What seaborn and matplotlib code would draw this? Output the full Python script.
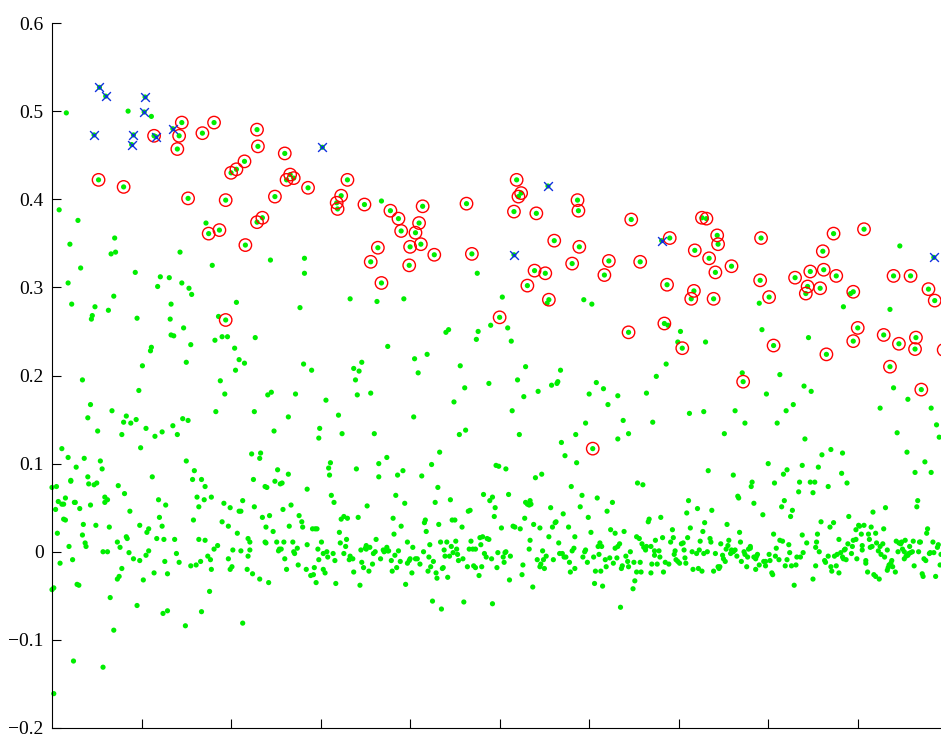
import pandas as pd
import matplotlib
matplotlib.use("Agg")
import matplotlib.pyplot as plt
import seaborn as sns

# plain green samples (x = sample index, y = value)
green_x = [
    0, 5, 7, 4, 6, 9, 2, 0, 2, 11, 13, 15, 13, 15, 19, 21, 23, 24, 25, 26,
    31, 28, 30, 34, 35, 37, 38, 41, 43, 47, 50, 49, 57, 57, 59, 59, 62, 62, 64, 65,
    69, 73, 73, 75, 74, 76, 78, 81, 83, 84, 86, 87, 91, 95, 98, 98, 102, 105, 106, 108,
    108, 114, 117, 119, 120, 123, 124, 125, 126, 127, 129, 129, 137, 139, 142, 149, 155, 158, 161, 162,
    164, 164, 166, 167, 170, 171, 171, 174, 176, 177, 178, 178, 181, 185, 190, 192, 197, 197, 199, 199,
    201, 202, 207, 209, 211, 211, 213, 213, 218, 219, 219, 221, 221, 224, 226, 232, 235, 238, 238, 239,
    239, 240, 242, 243, 247, 249, 251, 253, 254, 256, 257, 258, 259, 260, 262, 265, 267, 269, 270, 271,
    274, 275, 276, 279, 280, 284, 285, 285, 289, 291, 292, 294, 295, 296, 297, 298,
    # middle left
    20, 18, 22, 32, 34, 43, 40, 44, 45, 48, 51, 63, 66, 71, 69, 93, 95, 101, 97, 105,
    99, 115, 118, 121, 131, 133, 132, 133, 136, 143, 145, 147, 153, 156, 155, 150, 146, 152, 135, 140,
    123, 110, 111, 179, 186, 190, 196, 182, 204, 209, 215, 205, 206, 227, 188, 193, 183, 226, 244, 282,
    282, 277, 281, 290, 272, 264, 245, 241, 248, 223, 233, 232, 252, 264, 18, 11, 27, 36, 54, 56,
    21, 40, 67, 78, 80, 83, 88, 94, 112, 150, 159, 157, 167, 225, 255, 299, 298,
    16, 85, 111, 8, 29, 70, 172, 333,
    # middle centre
    368, 475, 363, 393, 503, 553, 594, 603, 375, 405, 419, 440, 443, 476, 474, 490, 509, 513,
    337, 343, 346, 339, 341, 356, 409, 456, 461, 449, 488, 520, 529, 543, 527, 514, 558, 564, 565, 568,
    608, 616, 600, 632, 621, 306, 320, 324, 360, 404, 455, 462, 433, 424, 374, 365, 340, 311, 309, 310,
    365, 386, 392, 413, 431, 496, 499, 507, 522, 569, 585, 596, 638, 632, 644, 573, 586, 540, 547,
    # bottom centre
    293, 301, 303, 307, 308, 303, 305, 312, 315, 314, 316, 317, 321, 322, 323, 326, 330, 326, 328, 329,
    332, 333, 336, 337, 342, 344, 345, 346, 348, 350, 351, 351, 352, 354, 355, 358, 359, 361, 362, 367,
    370, 371, 373, 374, 375, 376, 379, 380, 381, 382, 383, 384, 385, 387, 389, 390, 394, 395, 397, 397,
    399, 400, 402, 403, 406, 408, 411, 415, 416, 417, 418, 420, 421, 422, 423, 425, 426, 428, 429, 430,
    432, 434, 435, 436, 437, 438, 439, 441, 442, 444, 445, 446, 447, 448, 450, 451, 452, 453, 454,
    458, 459, 460, 464, 465, 467, 466, 468, 470, 471, 473, 473, 477, 479, 478, 480, 481, 482, 483, 485,
    486, 488, 489, 491, 492, 492, 494, 495, 497, 498, 502, 504, 505, 506, 507, 510, 511, 512, 515, 517,
    523, 525, 526, 528, 529, 531, 533, 534, 535, 534, 533, 537, 538, 542, 545, 545, 546, 548, 549, 550,
    552, 555, 557, 559, 560, 562, 563, 566, 567, 570, 571, 572, 574, 577, 578, 579, 580, 581, 583, 584, 584,
    590, 592, 593, 595, 596, 598, 599, 602, 605, 606, 607, 609, 610, 611, 612, 613, 614, 615, 618, 619,
    620, 623, 624, 626, 627, 629, 629, 631, 632, 634, 635, 636, 637, 639, 641, 643, 646,
    # bottom right
    644, 649, 650, 651, 653, 654, 660, 653, 656, 657, 658, 659, 661, 663, 664, 666, 667, 669, 669, 670,
    673, 673, 674, 676, 678, 679, 680, 682, 683, 685, 689, 691, 693, 694, 695, 696, 697, 699, 701, 703,
    705, 706, 707, 708, 709, 710, 711, 713, 715, 716, 720, 721, 722, 723, 724, 726, 727, 728, 729, 732,
    735, 736, 737, 739, 741, 744, 745, 746, 747, 749, 750, 752, 753, 754, 755, 756, 758, 759, 761, 763,
    765, 766, 767, 768, 769, 770, 773, 774, 776, 777, 778, 780, 780, 781, 782, 784, 784, 786, 786, 787,
    788, 790, 794, 795, 797, 797, 801, 802, 804, 805, 806, 807, 808, 809, 812, 813, 815, 816, 818, 819,
    821, 823, 824, 825, 826, 827, 829, 831, 832, 834, 835, 836, 838, 839, 843, 847, 850, 852, 850, 853,
    853, 854, 855, 857, 859, 863, 864, 867, 867, 869, 870, 871, 873, 874, 876, 877, 879, 879, 881, 883,
    884, 885, 886, 887, 888, 889, 890, 893, 894, 895, 898, 898, 899, 901, 902, 904, 905, 905, 907, 909,
    909, 911, 912, 913, 914, 915, 916, 917, 918, 920, 920, 921, 923, 924, 925, 926, 928, 929, 930, 931,
    933, 933, 934, 935, 937, 938, 939, 942, 943, 945, 946, 948, 949, 950, 952, 952, 953, 954, 956, 957,
    958, 959, 961, 962, 963, 966, 967, 968, 969, 970, 972, 973, 974, 976, 977, 978, 980, 981, 984, 985,
    987, 989, 990, 992, 993,
    # middle right
    947, 936, 884, 892, 790, 793, 845, 730, 702, 699, 688, 686, 675, 664, 671, 712, 728, 763, 774, 751,
    771, 798, 813, 840, 848, 828, 820, 810, 841, 870, 860, 883, 940, 956, 925, 982, 988, 991, 944, 955,
    975, 982, 964, 800, 838, 856, 821, 817, 882, 733, 761,
]
green_y = [
    0.073, 0.074, 0.057, 0.048, 0.021, -0.013, -0.041, -0.043, -0.161, 0.054, 0.054, 0.061, 0.037, 0.036, 0.006, 0.080, -0.009, -0.124, 0.056, 0.056,
    0.049, -0.037, -0.038, 0.019, 0.031, 0.010, 0.006, 0.077, 0.053, 0.076, 0.078, 0.030, 0.000, -0.131, 0.062, 0.056, 0.059, 0.000, 0.028, -0.052,
    -0.089, -0.031, 0.011, -0.028, 0.075, 0.005, -0.019, 0.066, 0.017, 0.015, -0.001, 0.046, -0.008, -0.061, -0.010, 0.030, -0.032, -0.004, 0.022, 0.001,
    0.026, -0.024, 0.015, 0.059, 0.039, 0.029, -0.070, 0.014, -0.011, 0.053, -0.025, -0.067, 0.014, -0.002, -0.012, -0.084, -0.016, 0.036, -0.015, 0.062,
    0.051, 0.014, -0.011, -0.068, 0.059, 0.074, 0.013, -0.005, -0.045, -0.009, -0.020, 0.062, 0.003, 0.007, 0.034, 0.055, 0.029, -0.008, 0.050, -0.020,
    -0.017, 0.002, 0.021, 0.046, 0.046, 0.001, 0.058, -0.081, -0.020, -0.005, 0.015, 0.011, 0.002, -0.025, 0.051, -0.031, 0.039, 0.074, 0.011, 0.010,
    0.028, 0.073, -0.035, 0.041, 0.023, 0.080, 0.011, 0.001, 0.003, 0.003, 0.078, 0.048, 0.011, -0.008, -0.020, 0.029, 0.053, 0.011, 0.000, -0.002,
    0.004, -0.015, 0.041, 0.034, 0.028, -0.020, 0.071, 0.008, -0.027, 0.026, -0.026, 0.026, -0.035, 0.026, 0.003, -0.009,
    # middle left
    0.349, 0.305, 0.281, 0.322, 0.195, 0.167, 0.152, 0.264, 0.268, 0.278, 0.137, 0.274, 0.338, 0.340, 0.290, 0.317, 0.265, 0.211, 0.183, 0.140,
    0.118, 0.131, 0.301, 0.312, 0.311, 0.281, 0.264, 0.246, 0.245, 0.340, 0.305, 0.254, 0.299, 0.292, 0.235, 0.215, 0.151, 0.149, 0.143, 0.133,
    0.136, 0.228, 0.232, 0.325, 0.267, 0.244, 0.244, 0.240, 0.231, 0.218, 0.214, 0.206, 0.283, 0.243, 0.194, 0.179, 0.159, 0.159, 0.331, 0.333,
    0.316, 0.277, 0.213, 0.206, 0.179, 0.153, 0.181, 0.178, 0.137, 0.111, 0.112, 0.106, 0.093, 0.088, 0.107, 0.117, 0.096, 0.106, 0.103, 0.094,
    0.081, 0.085, 0.160, 0.133, 0.147, 0.154, 0.146, 0.150, 0.085, 0.103, 0.092, 0.082, 0.082, 0.082, 0.077, 0.140, 0.129,
    0.498, 0.500, 0.494, 0.388, 0.376, 0.356, 0.373, 0.287,
    # middle centre
    0.398, 0.316, 0.284, 0.287, 0.289, 0.282, 0.286, 0.281, 0.233, 0.219, 0.224, 0.249, 0.252, 0.250, 0.241, 0.257, 0.254, 0.239,
    0.208, 0.205, 0.215, 0.195, 0.178, 0.180, 0.203, 0.211, 0.186, 0.170, 0.191, 0.195, 0.210, 0.182, 0.176, 0.160, 0.189, 0.191, 0.193, 0.206,
    0.192, 0.185, 0.179, 0.177, 0.167, 0.172, 0.155, 0.134, 0.134, 0.153, 0.133, 0.138, 0.113, 0.099, 0.107, 0.100, 0.094, 0.101, 0.095, 0.087,
    0.085, 0.087, 0.092, 0.086, 0.073, 0.098, 0.097, 0.094, 0.133, 0.124, 0.133, 0.146, 0.149, 0.128, 0.134, 0.109, 0.101, 0.084, 0.088,
    # bottom centre
    -0.018, 0.011, -0.002, 0.000, -0.006, -0.020, -0.024, 0.064, 0.056, -0.002, -0.010, -0.036, 0.022, 0.010, 0.037, 0.040, 0.038, -0.002, 0.006, 0.014,
    -0.009, -0.005, -0.008, -0.023, 0.039, -0.038, 0.002, -0.012, -0.018, 0.004, 0.007, 0.003, 0.052, -0.022, 0.005, -0.014, -0.002, 0.000, 0.014, -0.008,
    0.002, 0.000, 0.002, 0.005, 0.001, 0.001, -0.010, -0.022, 0.038, 0.020, -0.004, 0.064, -0.018, 0.001, -0.011, 0.029, 0.055, -0.037, 0.011, -0.013,
    -0.010, -0.008, -0.024, 0.005, -0.008, -0.008, -0.014, 0.000, 0.033, 0.036, 0.023, -0.022, -0.006, 0.008, -0.017, -0.056, -0.011, 0.056, -0.024, -0.030,
    0.031, 0.011, -0.065, -0.019, -0.018, 0.002, -0.005, 0.011, -0.029, -0.005, 0.059, 0.006, 0.036, -0.001, 0.036, 0.012, 0.003, -0.003, -0.010,
    0.028, -0.008, -0.057, -0.017, 0.046, 0.047, 0.003, 0.012, 0.003, -0.016, 0.003, -0.018, -0.027, 0.008, 0.016, -0.017, 0.017, 0.065, -0.002, -0.006,
    0.015, 0.014, 0.058, -0.008, -0.059, 0.062, 0.040, 0.050, -0.018, -0.001, 0.027, -0.006, -0.012, -0.001, 0.000, 0.065, -0.032, -0.005, 0.029, 0.028,
    0.026, -0.026, -0.015, 0.038, 0.056, 0.054, 0.053, 0.058, 0.054, 0.013, 0.003, -0.040, 0.031, -0.009, 0.027, -0.017, -0.014, 0.001, -0.009, -0.019,
    -0.005, 0.017, 0.050, 0.028, -0.009, 0.033, 0.034, 0.010, -0.002, -0.002, 0.043, -0.006, -0.006, 0.028, -0.012, -0.023, 0.074, 0.001, 0.004, 0.017, -0.019,
    0.051, 0.064, -0.006, 0.000, 0.002, -0.012, 0.039, 0.022, -0.006, -0.036, -0.022, 0.061, 0.006, -0.003, 0.010, -0.022, 0.006, -0.039, -0.009, -0.017,
    0.046, -0.007, 0.025, 0.056, -0.013, 0.021, 0.004, -0.007, 0.006, 0.009, -0.063, -0.019, -0.016, 0.023, -0.005, -0.011, 0.000,
    # bottom right
    -0.017, -0.042, -0.012, -0.033, -0.023, 0.078, 0.076, 0.017, 0.015, -0.012, -0.023, 0.009, 0.005, 0.002, 0.006, 0.034, 0.037, 0.006, -0.024, -0.014,
    -0.004, 0.001, 0.013, -0.014, 0.001, -0.006, 0.039, 0.016, -0.023, -0.012, -0.014, 0.011, 0.025, 0.016, -0.003, 0.001, -0.009, -0.011, -0.013, 0.009,
    0.010, 0.002, -0.007, -0.013, 0.044, 0.016, 0.058, 0.027, 0.000, -0.020, -0.002, 0.049, -0.019, 0.002, 0.012, -0.022, 0.023, -0.002, 0.033, 0.000,
    0.015, 0.011, 0.047, -0.022, -0.002, -0.017, -0.019, -0.017, 0.009, -0.004, -0.008, -0.011, 0.003, 0.031, 0.007, 0.013, -0.002, 0.002, 0.000, 0.002,
    -0.005, 0.063, 0.061, 0.022, 0.011, -0.011, 0.000, -0.003, -0.017, -0.006, 0.003, 0.004, 0.006, 0.074, 0.079, 0.055, -0.006, -0.008, -0.020, -0.005,
    -0.003, -0.015, 0.042, -0.011, -0.011, -0.016, -0.003, -0.010, -0.024, -0.026, 0.020, 0.078, -0.005, 0.004, -0.009, 0.013, 0.051, 0.012, 0.058, -0.016,
    -0.009, 0.008, -0.001, 0.040, -0.016, 0.047, -0.038, -0.015, -0.006, 0.068, 0.079, -0.006, 0.019, -0.001, 0.010, 0.079, 0.067, 0.079, -0.031, -0.016,
    0.005, 0.011, 0.020, 0.000, 0.034, -0.010, -0.012, 0.074, -0.005, 0.028, -0.017, -0.022, 0.033, -0.005, -0.016, -0.003, 0.014, -0.024, -0.001, -0.006,
    -0.008, 0.002, 0.003, -0.009, 0.078, 0.009, 0.040, -0.002, 0.006, 0.013, 0.025, 0.014, -0.008, 0.030, 0.029, 0.020, 0.007, 0.002, 0.030, -0.013,
    -0.010, -0.023, 0.020, 0.014, 0.005, 0.028, 0.006, 0.045, -0.026, 0.021, -0.028, 0.010, 0.001, -0.031, 0.006, -0.003, 0.009, 0.026, -0.006, 0.050,
    0.002, -0.021, -0.018, -0.015, -0.013, -0.010, -0.017, -0.023, 0.012, 0.000, 0.010, 0.009, 0.011, 0.003, 0.000, -0.008, 0.013, -0.005, -0.004, -0.002,
    0.006, -0.001, 0.000, 0.012, -0.016, 0.051, 0.058, 0.000, 0.011, 0.011, -0.025, -0.028, -0.008, -0.010, 0.021, 0.026, -0.002, -0.001, 0.011, -0.001,
    -0.028, 0.005, 0.008, -0.015, -0.003,
    # middle right
    0.347, 0.275, 0.278, 0.293, 0.282, 0.252, 0.243, 0.238, 0.250, 0.238, 0.257, 0.213, 0.199, 0.180, 0.147, 0.157, 0.159, 0.160, 0.146, 0.134,
    0.203, 0.179, 0.201, 0.188, 0.182, 0.167, 0.160, 0.146, 0.128, 0.116, 0.110, 0.112, 0.186, 0.173, 0.163, 0.163, 0.144, 0.130, 0.135, 0.113,
    0.102, 0.090, 0.090, 0.100, 0.098, 0.096, 0.093, 0.088, 0.089, 0.092, 0.087,
]

# samples flagged with a red circle
circle_x = [
    52, 80, 114, 145, 142, 140, 168, 181, 152, 194, 229, 230, 260, 215, 206, 200, 266, 262, 270, 286,
    249, 330, 323, 318, 319, 235, 229, 187, 175, 216, 194,
    349, 378, 387, 390, 414, 410, 406, 400, 412, 364, 356, 399, 368, 427, 463, 469, 519, 524, 521, 516,
    541, 587, 588, 561, 589, 581, 539, 551, 531, 555, 622, 617, 647, 657, 500, 644, 604,
    726, 731, 690, 743, 744, 718, 734, 741, 759, 792, 687, 717, 714, 739, 791, 801, 684, 704, 806, 772,
    873, 907, 861, 847, 862, 876, 830, 844, 842, 858, 895, 940, 959, 979, 986, 900, 895, 865, 929, 946,
    965, 964, 936, 971, 996,
]
circle_y = [
    0.422, 0.414, 0.472, 0.487, 0.472, 0.457, 0.475, 0.487, 0.401, 0.399, 0.479, 0.460, 0.452, 0.443, 0.434, 0.430, 0.428, 0.422, 0.424, 0.413,
    0.403, 0.422, 0.404, 0.396, 0.389, 0.379, 0.374, 0.365, 0.361, 0.348, 0.263,
    0.394, 0.387, 0.378, 0.364, 0.392, 0.373, 0.362, 0.346, 0.349, 0.345, 0.329, 0.325, 0.305, 0.337, 0.395, 0.338, 0.422, 0.407, 0.403, 0.386,
    0.384, 0.399, 0.387, 0.353, 0.346, 0.327, 0.319, 0.316, 0.302, 0.286, 0.330, 0.314, 0.377, 0.329, 0.266, 0.249, 0.117,
    0.379, 0.378, 0.356, 0.359, 0.349, 0.342, 0.333, 0.317, 0.324, 0.356, 0.303, 0.296, 0.287, 0.287, 0.308, 0.289, 0.259, 0.231, 0.234, 0.193,
    0.361, 0.366, 0.341, 0.318, 0.320, 0.313, 0.311, 0.301, 0.293, 0.299, 0.295, 0.313, 0.313, 0.298, 0.285, 0.254, 0.239, 0.224, 0.246, 0.236,
    0.243, 0.230, 0.210, 0.184, 0.229,
]

# samples flagged with a blue cross
cross_x = [53, 60, 104, 103, 47, 91, 89, 116, 135, 302, 554, 516, 681, 985]
cross_y = [0.527, 0.517, 0.516, 0.499, 0.473, 0.473, 0.462, 0.471, 0.480, 0.459, 0.415, 0.337, 0.353, 0.334]

y_ticks = [-0.2, -0.1, 0.0, 0.1, 0.2, 0.3, 0.4, 0.5, 0.6]
y_tick_labels = ["\u22120.2", "\u22120.1", "0", "0.1", "0.2", "0.3", "0.4", "0.5", "0.6"]
x_ticks = [100, 200, 300, 400, 500, 600, 700, 800, 900]

sns.set_style("ticks")
plt.rcParams["font.family"] = ["Liberation Serif", "DejaVu Serif"]

green = pd.DataFrame({"x": green_x + circle_x + cross_x,
                      "y": green_y + circle_y + cross_y})
circles = pd.DataFrame({"x": circle_x, "y": circle_y})
crosses = pd.DataFrame({"x": cross_x, "y": cross_y})

fig = plt.figure(figsize=(9.41, 7.38), dpi=100)
ax = fig.add_axes([52 / 941, 10 / 738, 1 - 52 / 941, 705 / 738])

sns.scatterplot(data=green, x="x", y="y", ax=ax, color="#00ee00", s=14,
                linewidth=0, edgecolor="none", clip_on=False, zorder=2)
sns.scatterplot(data=circles, x="x", y="y", ax=ax, marker="o", s=80,
                facecolor="none", edgecolor="red", linewidth=1.0,
                clip_on=False, zorder=3)
sns.scatterplot(data=crosses, x="x", y="y", ax=ax, marker="x", s=40,
                color="#1030e0", linewidth=1.0, clip_on=False, zorder=4)

ax.set_xlim(0, 993)
ax.set_ylim(-0.2, 0.6)
ax.set_xticks(x_ticks)
ax.set_xticklabels([])
ax.set_yticks(y_ticks)
ax.set_yticklabels(y_tick_labels, fontsize=14)
ax.set_xlabel("")
ax.set_ylabel("")
ax.tick_params(direction="in", length=6.5, width=0.8, colors="black", pad=6)
sns.despine(ax=ax)
for side in ["left", "bottom"]:
    ax.spines[side].set_linewidth(0.8)
    ax.spines[side].set_color("black")

fig.savefig("out.png", dpi=100)
